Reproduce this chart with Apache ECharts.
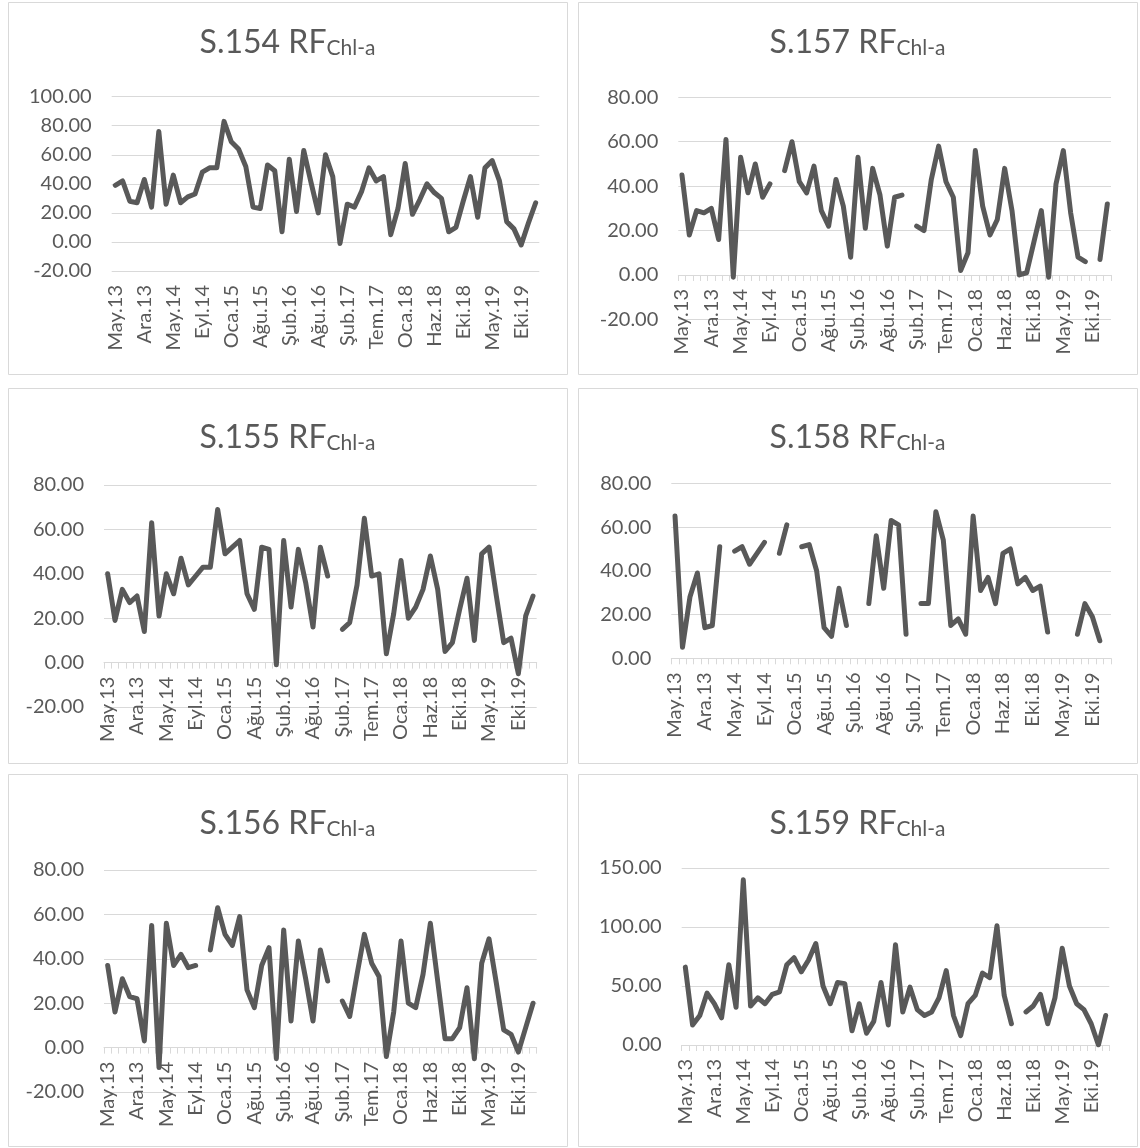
<!DOCTYPE html>
<html>
<head>
<meta charset="utf-8">
<script src="https://cdn.jsdelivr.net/npm/echarts@6/dist/echarts.min.js"></script>
<style>
  html, body { margin: 0; padding: 0; background: #ffffff; }
  #c { width: 1140px; height: 1148px; }
</style>
</head>
<body>
<div id="c"></div>
<script>
// Sampling dates (month.year, Turkish abbreviations)
const months = [
  'May.13','Haz.13','Ağu.13','Eki.13','Ara.13','Şub.14','Mar.14','Nis.14',
  'May.14','Haz.14','Tem.14','Ağu.14','Eyl.14','Eki.14','Kas.14','Ara.14',
  'Oca.15','Mar.15','May.15','Haz.15','Ağu.15','Eyl.15','Kas.15','Ara.15',
  'Şub.16','Mar.16','Nis.16','Haz.16','Ağu.16','Eyl.16','Eki.16','Ara.16',
  'Şub.17','Mar.17','May.17','Haz.17','Tem.17','Eyl.17','Eki.17','Kas.17',
  'Oca.18','Şub.18','Mar.18','Nis.18','Haz.18','Tem.18','Ağu.18','Eyl.18',
  'Eki.18','Kas.18','Şub.19','Nis.19','May.19','Haz.19','Tem.19','Ağu.19',
  'Eki.19','Kas.19','Ara.19'
];

// RF Chl-a per station (null = no sample)
const s154 = [39, 42, 28, 27, 43, 24, 76, 26, 46, 27, 31, 33, 48, 51, 51, 83, 69, 64, 52, 24,
  23, 53, 49, 7, 57, 21, 63, 41, 20, 60, 45, -1, 26, 24, 35, 51, 42, 45, 5, 23,
  54, 19, 29, 40, 34, 30, 7, 10, 28, 45, 17, 51, 56, 42, 14, 9, -2, 13, 27];
const s157 = [45, 18, 29, 28, 30, 16, 61, -1, 53, 37, 50, 35, 41, null, 47, 60, 42, 37, 49, 29,
  22, 43, 31, 8, 53, 21, 48, 36, 13, 35, 36, null, 22, 20, 43, 58, 42, 35, 2, 10,
  56, 31, 18, 25, 48, 29, 0, 1, 15, 29, -1, 41, 56, 28, 8, 6, null, 7, 32];
const s155 = [40, 19, 33, 27, 30, 14, 63, 21, 40, 31, 47, 35, 39, 43, 43, 69, 49, 52, 55, 31,
  24, 52, 51, -1, 55, 25, 51, 36, 16, 52, 39, null, 15, 18, 35, 65, 39, 40, 4, 22,
  46, 20, 25, 33, 48, 33, 5, 9, 24, 38, 10, 49, 52, 30, 9, 11, -5, 21, 30];
const s158 = [65, 5, 28, 39, 14, 15, 51, null, 49, 51, 43, 48, 53, null, 48, 61, null, 51, 52, 40,
  14, 10, 32, 15, null, null, 25, 56, 32, 63, 61, 11, null, 25, 25, 67, 54, 15, 18, 11,
  65, 31, 37, 25, 48, 50, 34, 37, 31, 33, 12, null, null, null, 11, 25, 19, 8, null];
const s156 = [37, 16, 31, 23, 22, 3, 55, -9, 56, 37, 42, 36, 37, null, 44, 63, 51, 46, 59, 26,
  18, 37, 45, -5, 53, 12, 48, 31, 12, 44, 30, null, 21, 14, 33, 51, 38, 32, -4, 16,
  48, 20, 18, 33, 56, 30, 4, 4, 9, 27, -5, 38, 49, 29, 8, 6, -2, 9, 20];
const s159 = [66, 17, 25, 44, 35, 23, 68, 32, 140, 33, 40, 35, 43, 45, 68, 74, 62, 72, 86, 50,
  35, 53, 52, 12, 35, 10, 20, 53, 17, 85, 28, 49, 30, 25, 28, 40, 63, 25, 8, 35,
  42, 61, 57, 101, 42, 18, null, 28, 33, 43, 18, 40, 82, 50, 35, 30, 18, 0, 25];

// Y-axis ranges per station: [min, max, step]
const yRanges = {
  'S.154': [-20, 100, 20],
  'S.157': [-20, 80, 20],
  'S.155': [-20, 80, 20],
  'S.158': [0, 80, 20],
  'S.156': [-20, 80, 20],
  'S.159': [0, 150, 50]
};

const FONT = 'Lato, "DejaVu Sans", sans-serif';
const TXT = '#595959';
const LINE = '#595959';
const GRID = '#d9d9d9';

// Panel layout: frame box, plot area, title centre, whether category labels sit at the plot bottom
const panels = [
  { name: 'S.154', data: s154, frame: [8, 2, 559, 372],
    grid: { left: 111.7, top: 96.7, width: 427.6, height: 174.3 }, title: [287.5, 45], low: true },
  { name: 'S.157', data: s157, frame: [578, 2, 559, 372],
    grid: { left: 678.3, top: 97.3, width: 432.7, height: 222.1 }, title: [857.5, 45], low: false },
  { name: 'S.155', data: s155, frame: [8, 388, 559, 375],
    grid: { left: 104, top: 485, width: 432.7, height: 222 }, title: [287.5, 440], low: false },
  { name: 'S.158', data: s158, frame: [578, 388, 559, 375],
    grid: { left: 671.3, top: 483.3, width: 439.7, height: 175 }, title: [857.5, 440], low: false },
  { name: 'S.156', data: s156, frame: [8, 774, 559, 372],
    grid: { left: 104, top: 870, width: 432.7, height: 222 }, title: [287.5, 826], low: false },
  { name: 'S.159', data: s159, frame: [578, 774, 559, 372],
    grid: { left: 681.7, top: 868, width: 427.6, height: 177 }, title: [857.5, 826], low: false }
];

const option = {
  animation: false,
  backgroundColor: '#ffffff',
  textStyle: { fontFamily: FONT },
  title: [], grid: [], xAxis: [], yAxis: [], series: [],
  graphic: []
};

panels.forEach(function (p, k) {
  const r = yRanges[p.name];
  // the category axis sits on the zero line: shift it up from the plot bottom
  const zeroLift = r[0] < 0 ? p.grid.height * (0 - r[0]) / (r[1] - r[0]) : 0;
  option.graphic.push({
    type: 'rect', silent: true, z: -10,
    shape: { x: p.frame[0] + 0.5, y: p.frame[1] + 0.5, width: p.frame[2], height: p.frame[3] },
    style: { fill: '#ffffff', stroke: GRID, lineWidth: 1 }
  });
  option.title.push({
    text: '{a|' + p.name + ' RF}{b|Chl-a}',
    left: p.title[0], top: p.title[1] - 18, textAlign: 'center',
    padding: 0,
    textStyle: {
      fontWeight: 'normal',
      rich: {
        a: { fontFamily: FONT, fontSize: 32, fontWeight: 'normal', color: TXT, lineHeight: 36, verticalAlign: 'top' },
        b: { fontFamily: FONT, fontSize: 21, fontWeight: 'normal', color: TXT, lineHeight: 36, verticalAlign: 'top', padding: [11, 0, 0, 0] }
      }
    }
  });
  option.grid.push(Object.assign({ containLabel: false }, p.grid));
  option.xAxis.push({
    type: 'category', gridIndex: k, data: months, boundaryGap: true,
    offset: p.low ? 0 : -zeroLift,
    axisLine: { show: !p.low, onZero: false, lineStyle: { color: GRID, width: 1 } },
    axisTick: { show: !p.low, interval: 0, length: 6, lineStyle: { color: GRID, width: 1 } },
    axisLabel: { interval: 3, rotate: 90, margin: 14, color: TXT, fontSize: 20, fontFamily: FONT },
    splitLine: { show: false }
  });
  option.yAxis.push({
    type: 'value', gridIndex: k, min: r[0], max: r[1], interval: r[2],
    axisLine: { show: false }, axisTick: { show: false },
    axisLabel: { margin: 20, color: TXT, fontSize: 20, fontFamily: FONT,
      formatter: function (v) { return v.toFixed(2); } },
    splitLine: { lineStyle: { color: GRID, width: 1 } }
  });
  option.series.push({
    type: 'line', xAxisIndex: k, yAxisIndex: k, data: p.data,
    showSymbol: false, connectNulls: false, smooth: false,
    lineStyle: { color: LINE, width: 5, cap: 'round', join: 'round' }
  });
});

const chart = echarts.init(document.getElementById('c'), null, { renderer: 'canvas' });
chart.setOption(option);
</script>
</body>
</html>
